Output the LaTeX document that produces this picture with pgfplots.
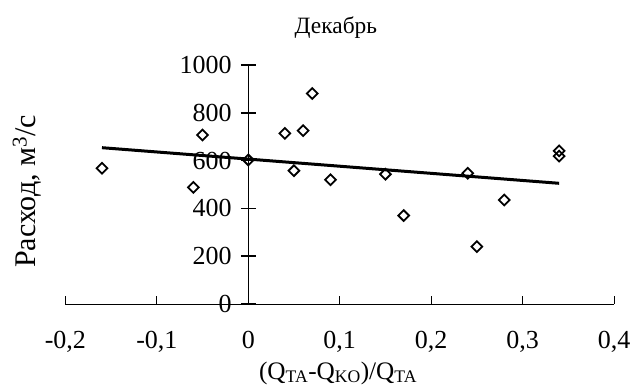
\documentclass[border=0pt]{standalone}
\usepackage{pgfplots}
\pgfplotsset{compat=1.18}
\usepackage{fontspec}
\setmainfont{Liberation Serif}
\begin{document}
\begin{tikzpicture}
\path[use as bounding box] (-65.4bp,-82bp) rectangle (568.6bp,304bp);
\begin{axis}[
  at={(0,0)}, anchor=south west,
  scale only axis, width=548.6bp, height=239bp,
  xmin=-0.2, xmax=0.4, ymin=0, ymax=1000,
  axis x line=bottom, axis y line=middle,
  axis line style={-},
  x axis line style={line width=1bp},
  y axis line style={line width=1.5bp},
  hide obscured x ticks=false, hide obscured y ticks=false,
  xtick={-0.2,-0.1,0,0.1,0.2,0.3,0.4},
  xticklabels={{-0,2},{-0,1},0,{0,1},{0,2},{0,3},{0,4}},
  ytick={0,200,400,600,800,1000},
  yticklabels={0,200,400,600,800,1000},
  xtick align=inside,
  ytick align=center,
  xtick style={black, line width=1bp, /pgfplots/major tick length=8bp},
  ytick style={black, line width=1.5bp, /pgfplots/major tick length=15bp},
  tick label style={font=\fontsize{26bp}{30bp}\selectfont},
  xticklabel style={yshift=-24bp},
  yticklabel style={xshift=-11bp},
  minor tick num=0,
  clip=false,
  title={Декабрь},
  every axis title/.style={at={(0.493,1.155)}, anchor=center, font=\fontsize{23.4bp}{27bp}\selectfont},
  xlabel={(Q\textsubscript{TA}-Q\textsubscript{KO})/Q\textsubscript{TA}},
  every axis x label/.style={at={(0.497,-0.289)}, anchor=center, font=\fontsize{25.2bp}{29bp}\selectfont},
  ylabel={Расход, м\textsuperscript{3}/с},
  every axis y label/.style={at={(-0.070,0.471)}, anchor=center, rotate=90, font=\fontsize{30bp}{34bp}\selectfont},
]
\addplot[only marks, mark=square, mark size=3.8bp, mark options={rotate=45, line width=1.8bp, fill=white, draw=black}] coordinates {
(-0.16,568) (-0.05,707) (-0.06,488) (0,603) (0.04,714) (0.06,725) (0.07,881) (0.05,558)
(0.09,520) (0.15,543) (0.17,370) (0.24,547) (0.25,240) (0.28,435) (0.34,641) (0.34,619)
};
\addplot[black, line width=3bp, no marks] coordinates {(-0.16,654) (0.34,505)};
\end{axis}
\end{tikzpicture}
\end{document}
